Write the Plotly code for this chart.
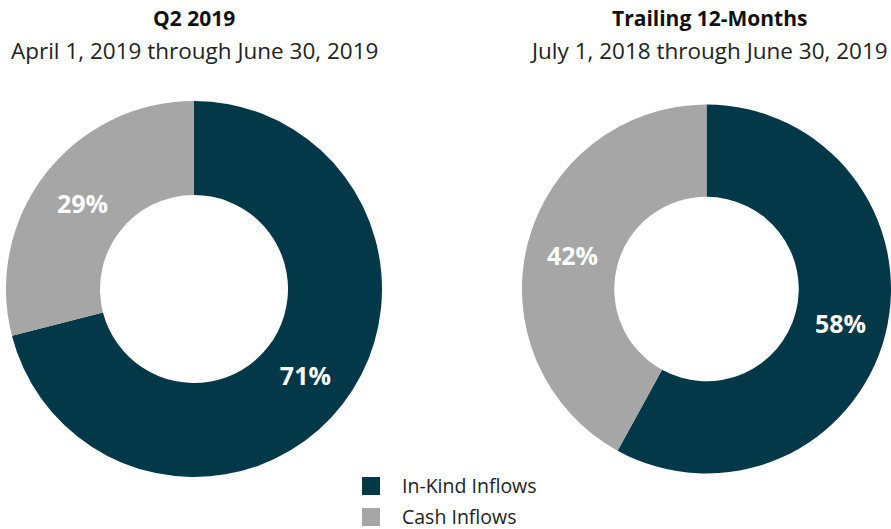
import plotly.graph_objects as go

labels = ["In-Kind Inflows", "Cash Inflows"]
q2_values = [71, 29]
ttm_values = [58, 42]
colors = ["#023848", "#a6a6a6"]
titles = ["<b>Q2 2019</b>", "<b>Trailing 12-Months</b>"]
subtitles = ["April 1, 2019 through June 30, 2019", "July 1, 2018 through June 30, 2019"]

W, H = 891, 529
FONT = "Open Sans"

fig = go.Figure()
common = dict(
    labels=labels,
    marker=dict(colors=colors, line=dict(width=0)),
    hole=0.5,
    sort=False,
    direction="clockwise",
    rotation=0,
    texttemplate="<b>%{value}%</b>",
    textposition="inside",
    insidetextorientation="horizontal",
    textfont=dict(color="white", size=25, family=FONT),
    hoverinfo="label+percent",
    showlegend=False,
)
fig.add_trace(go.Pie(values=q2_values, domain=dict(x=[6 / W, 382 / W], y=[1 - 477 / H, 1 - 101 / H]), **common))
fig.add_trace(go.Pie(values=ttm_values, domain=dict(x=[522 / W, 1.0], y=[1 - 477 / H, 1 - 101 / H]), **common))

centers = [194, 709]
for cx, t, s in zip(centers, titles, subtitles):
    fig.add_annotation(x=cx / W, y=1 - 18 / H, xref="paper", yref="paper", text=t, showarrow=False,
                       font=dict(size=21, color="#111111", family=FONT), xanchor="center", yanchor="middle")
    fig.add_annotation(x=cx / W, y=1 - 50 / H, xref="paper", yref="paper", text=s, showarrow=False,
                       font=dict(size=22.5, color="#222222", family=FONT), xanchor="center", yanchor="middle")

# legend (manual, from labels/colors)
for i, (lab, col) in enumerate(zip(labels, colors)):
    yc = 486 + 31 * i
    fig.add_shape(type="rect", xref="paper", yref="paper",
                  x0=362 / W, x1=380 / W, y0=1 - (yc - 9) / H, y1=1 - (yc + 9) / H,
                  fillcolor=col, line=dict(width=0))
    fig.add_annotation(x=401 / W, y=1 - (yc - 1) / H, xref="paper", yref="paper", text=lab, showarrow=False,
                       font=dict(size=19.5, color="#222222", family=FONT), xanchor="left", yanchor="middle",
                       borderpad=0)

fig.update_layout(
    width=W, height=H,
    margin=dict(l=0, r=0, t=0, b=0),
    paper_bgcolor="white", plot_bgcolor="white",
    font=dict(family=FONT),
    showlegend=False,
)
fig.write_html("out.html")
